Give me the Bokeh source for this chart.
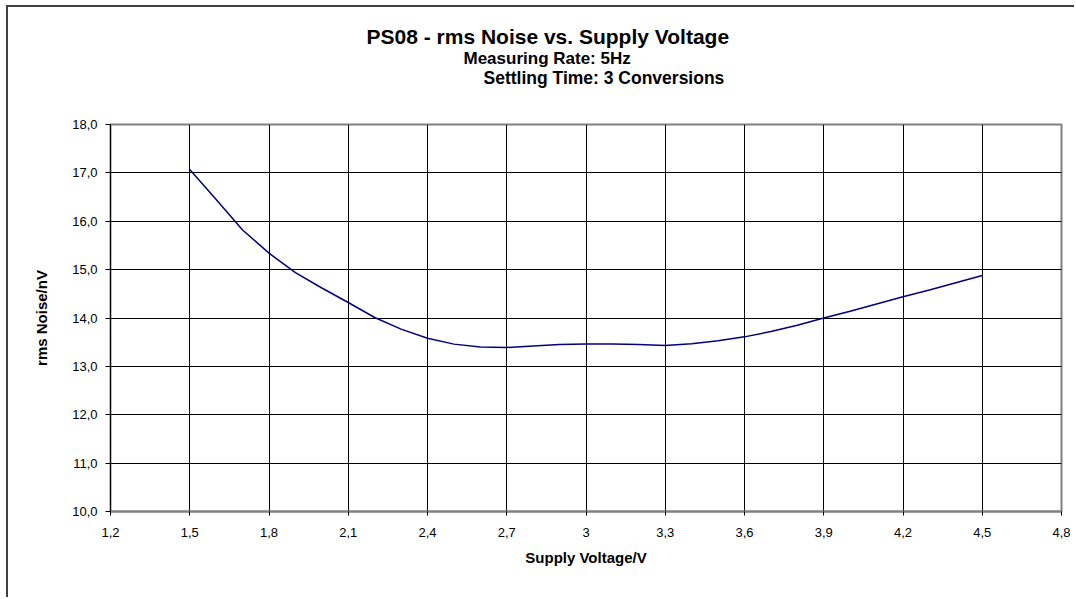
from bokeh.plotting import figure
from bokeh.models import Title, FixedTicker, Range1d
from bokeh.embed import file_html
from bokeh.resources import INLINE

# ---- data ----
voltage = [1.5, 1.6, 1.7, 1.8, 1.9, 2.0, 2.1, 2.2, 2.3, 2.4, 2.5, 2.6, 2.7, 2.8, 2.9, 3.0,
           3.1, 3.2, 3.3, 3.4, 3.5, 3.6, 3.7, 3.8, 3.9, 4.0, 4.1, 4.2, 4.3, 4.4, 4.5]
noise = [17.07, 16.45, 15.82, 15.34, 14.94, 14.62, 14.32, 14.01, 13.77, 13.58, 13.46, 13.40,
         13.39, 13.42, 13.45, 13.46, 13.46, 13.45, 13.43, 13.47, 13.53, 13.61, 13.72, 13.85,
         14.00, 14.14, 14.29, 14.44, 14.58, 14.73, 14.88]

x_ticks = [1.2, 1.5, 1.8, 2.1, 2.4, 2.7, 3.0, 3.3, 3.6, 3.9, 4.2, 4.5, 4.8]
x_tick_labels = ["1,2", "1,5", "1,8", "2,1", "2,4", "2,7", "3", "3,3", "3,6", "3,9", "4,2", "4,5", "4,8"]
y_ticks = [10, 11, 12, 13, 14, 15, 16, 17, 18]
y_tick_labels = ["10,0", "11,0", "12,0", "13,0", "14,0", "15,0", "16,0", "17,0", "18,0"]

title = "PS08 - rms Noise vs. Supply Voltage"
subtitle1 = "Measuring Rate: 5Hz"
subtitle2 = "Settling Time: 3 Conversions"
x_label = "Supply Voltage/V"
y_label = "rms Noise/nV"

FONT = "Liberation Sans"
OX, OY = 8, 7                       # canvas origin on the page (after CSS border/margin)
W, H = 1068, 592
FL, FR, FT, FB = 110 - OX, 1061 - OX, 124 - OY, 511 - OY   # frame edges in canvas pixels
X0, X1, Y0, Y1 = 1.2, 4.8, 10.0, 18.0
frame_left = FL + OX                # page x of frame left edge

p = figure(width=W, height=H, output_backend="svg", toolbar_location=None,
           x_range=Range1d(X0, X1), y_range=Range1d(Y0, Y1),
           min_border_left=FL, min_border_right=W - FR,
           min_border_top=FT, min_border_bottom=H - FB,
           background_fill_color="white", border_fill_color="white",
           styles={"margin-left": "6px", "margin-top": "5px",
                   "border-left": "2px solid #404040", "border-top": "2px solid #404040"})

p.outline_line_color = "#808080"
p.outline_line_width = 2

# grids
p.xgrid.ticker = FixedTicker(ticks=x_ticks)
p.ygrid.ticker = FixedTicker(ticks=y_ticks)
for g in (p.xgrid, p.ygrid):
    g.grid_line_color = "black"
    g.grid_line_width = 1
    g.grid_line_alpha = 1.0

# x axis
xa = p.xaxis[0]
xa.ticker = FixedTicker(ticks=x_ticks)
xa.major_label_overrides = dict(zip(x_ticks, x_tick_labels))
xa.axis_line_color = "#808080"
xa.axis_line_width = 2
xa.major_tick_out = 4
xa.major_tick_in = 0
xa.major_tick_line_color = "black"
xa.minor_tick_line_color = None
xa.major_label_standoff = 12
xa.major_label_text_font = FONT
xa.major_label_text_font_size = "13px"
xa.major_label_text_color = "black"
xa.axis_label = x_label
xa.axis_label_text_font = FONT
xa.axis_label_text_font_size = "15px"
xa.axis_label_text_font_style = "bold"
xa.axis_label_text_color = "black"
xa.axis_label_standoff = 9

# y axis
ya = p.yaxis[0]
ya.ticker = FixedTicker(ticks=y_ticks)
ya.major_label_overrides = dict(zip(y_ticks, y_tick_labels))
ya.axis_line_color = "black"
ya.axis_line_width = 1
ya.major_tick_out = 5
ya.major_tick_in = 0
ya.major_tick_line_color = "black"
ya.minor_tick_line_color = None
ya.major_label_standoff = 8
ya.major_label_text_font = FONT
ya.major_label_text_font_size = "13px"
ya.major_label_text_color = "black"
ya.axis_label = y_label
ya.axis_label_text_font = FONT
ya.axis_label_text_font_size = "15px"
ya.axis_label_text_font_style = "bold"
ya.axis_label_text_color = "black"
ya.axis_label_standoff = 19

p.line(voltage, noise, line_color="#000080", line_width=1.5)

# spacer between frame and the title block
p.add_layout(Title(text=" ", text_font_size="1px", standoff=32), "above")
# titles stacked above the spacer: nearest first (left edge given in page pixels)
for txt, left_x, size, standoff in [(subtitle2, 483, "17.5px", 4),
                                    (subtitle1, 463, "17px", -8),
                                    (title, 366, "21px", 6)]:
    p.add_layout(Title(text=txt, align="left", offset=left_x - frame_left,
                       text_font=FONT, text_font_size=size, text_font_style="bold",
                       text_color="black", standoff=standoff), "above")

open("out.html", "w").write(file_html(p, INLINE))
